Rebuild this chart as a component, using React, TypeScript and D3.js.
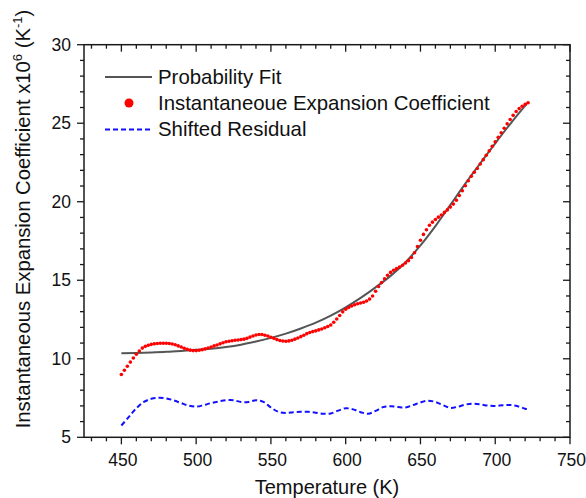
import React from "react";
import * as d3 from "d3";

// Instantaneous expansion coefficient (x10^6 K^-1), sampled every 2 K from 450 K
const dataStartT = 450;
const dataStepT = 2;
const coefValues = [
  9.0, 9.27, 9.52, 9.79, 10.05, 10.29, 10.5, 10.68, 10.79, 10.86,
  10.92, 10.95, 10.97, 10.99, 10.99, 10.99, 10.97, 10.94, 10.89, 10.82,
  10.75, 10.67, 10.6, 10.55, 10.52, 10.52, 10.54, 10.58, 10.63, 10.69,
  10.75, 10.82, 10.88, 10.95, 11.02, 11.08, 11.12, 11.15, 11.18, 11.2,
  11.22, 11.25, 11.3, 11.38, 11.45, 11.51, 11.55, 11.55, 11.5, 11.45,
  11.37, 11.3, 11.22, 11.16, 11.13, 11.12, 11.14, 11.18, 11.25, 11.32,
  11.41, 11.5, 11.6, 11.67, 11.73, 11.78, 11.84, 11.9, 11.98, 12.06,
  12.15, 12.33, 12.53, 12.76, 12.99, 13.15, 13.27, 13.36, 13.44, 13.5,
  13.55, 13.6, 13.68, 13.8, 14.0, 14.3, 14.6, 14.85, 15.1, 15.32,
  15.5, 15.64, 15.74, 15.84, 15.96, 16.1, 16.25, 16.45, 16.75, 17.15,
  17.55, 17.92, 18.22, 18.5, 18.7, 18.87, 19.02, 19.15, 19.32, 19.48,
  19.66, 19.85, 20.1, 20.4, 20.7, 21.02, 21.34, 21.62, 21.88, 22.12,
  22.4, 22.68, 22.96, 23.24, 23.53, 23.82, 24.1, 24.39, 24.68, 24.96,
  25.24, 25.5, 25.75, 25.93, 26.08, 26.2, 26.3,
];

// Probability fit curve
const fitTemps = [450, 460, 470, 480, 490, 500, 510, 520, 530, 540, 550, 560, 570, 580, 590, 600, 610, 620, 630, 640, 650, 660, 670, 680, 690, 700, 710, 720, 722];
const fitValues = [10.35, 10.37, 10.4, 10.44, 10.5, 10.57, 10.64, 10.75, 10.9, 11.1, 11.33, 11.6, 11.93, 12.3, 12.75, 13.28, 13.88, 14.55, 15.28, 16.15, 17.22, 18.45, 19.8, 21.15, 22.45, 23.72, 24.95, 26.12, 26.35];

// Shifted residual
const residTemps = [450, 455, 460, 465, 470, 475, 480, 485, 490, 495, 500, 505, 510, 515, 520, 525, 530, 535, 540, 545, 550, 555, 560, 565, 570, 575, 580, 585, 590, 595, 600, 605, 610, 615, 620, 625, 630, 635, 640, 645, 650, 655, 660, 665, 670, 675, 680, 685, 690, 695, 700, 705, 710, 715, 720, 722];
const residValues = [5.75, 6.3, 6.85, 7.25, 7.45, 7.52, 7.48, 7.35, 7.18, 7.02, 6.95, 7.05, 7.18, 7.28, 7.36, 7.36, 7.25, 7.25, 7.36, 7.25, 6.9, 6.62, 6.55, 6.6, 6.63, 6.62, 6.57, 6.5, 6.52, 6.7, 6.85, 6.78, 6.6, 6.5, 6.68, 6.92, 6.98, 6.93, 6.9, 7.05, 7.22, 7.33, 7.25, 7.05, 6.87, 6.95, 7.08, 7.14, 7.1, 7.02, 7.0, 7.04, 7.06, 6.98, 6.82, 6.78];

const xMajorTicks = [450, 500, 550, 600, 650, 700, 750];
const yMajorTicks = [5, 10, 15, 20, 25, 30];

const legendLabels = ["Probability Fit", "Instantaneoue Expansion Coefficient", "Shifted Residual"];

const W = 586;
const H = 498;
const plot = { left: 84, right: 570, top: 44.7, bottom: 437.3 };
const FONT = "'Liberation Sans', Arial, sans-serif";
const AXIS_COLOR = "#1a1a1a";
const FIT_COLOR = "#555555";
const DOT_COLOR = "#ff0000";
const RESID_COLOR = "#1010ff";

export default function App() {
  const x = d3.scaleLinear().domain([425, 750]).range([plot.left, plot.right]);
  const y = d3.scaleLinear().domain([5, 30]).range([plot.bottom, plot.top]);

  const xMinor = d3.range(430, 750, 10).filter((t) => t % 50 !== 0);
  const yMinor = d3.range(6, 30, 1).filter((v) => v % 5 !== 0);

  const coefPoints = coefValues.map((v, i) => [dataStartT + i * dataStepT, v] as [number, number]);
  const fitLine = d3
    .line<number>()
    .x((_, i) => x(fitTemps[i]))
    .y((d) => y(d))
    .curve(d3.curveMonotoneX)(fitValues) as string;
  const residLine = d3
    .line<number>()
    .x((_, i) => x(residTemps[i]))
    .y((d) => y(d))
    .curve(d3.curveCatmullRom.alpha(0.5))(residValues) as string;

  const majorLen = 7;
  const minorLen = 4;

  return (
    <svg
      width={W}
      height={H}
      style={{ position: "absolute", left: 0, top: 0, background: "#fff" }}
      fontFamily={FONT}
    >
      <rect x={0} y={0} width={W} height={H} fill="#fff" />

      {/* data */}
      <path d={residLine} fill="none" stroke={RESID_COLOR} strokeWidth={2} strokeDasharray="5,3" />
      <path d={fitLine} fill="none" stroke={FIT_COLOR} strokeWidth={2} />
      {coefPoints.map(([t, v], i) => (
        <circle key={i} cx={x(t)} cy={y(v)} r={1.8} fill={DOT_COLOR} />
      ))}

      {/* frame */}
      <rect
        x={plot.left}
        y={plot.top}
        width={plot.right - plot.left}
        height={plot.bottom - plot.top}
        fill="none"
        stroke={AXIS_COLOR}
        strokeWidth={1.5}
      />

      {/* bottom (outward) and top (inward) ticks */}
      {xMajorTicks.map((t) => (
        <g key={`xM${t}`} stroke={AXIS_COLOR} strokeWidth={1.3}>
          <line x1={x(t)} x2={x(t)} y1={plot.bottom} y2={plot.bottom + majorLen} />
          <line x1={x(t)} x2={x(t)} y1={plot.top} y2={plot.top + majorLen} />
        </g>
      ))}
      {xMinor.map((t) => (
        <g key={`xm${t}`} stroke={AXIS_COLOR} strokeWidth={1.3}>
          <line x1={x(t)} x2={x(t)} y1={plot.bottom} y2={plot.bottom + minorLen} />
          <line x1={x(t)} x2={x(t)} y1={plot.top} y2={plot.top + minorLen} />
        </g>
      ))}

      {/* left (outward) and right (inward) ticks */}
      {yMajorTicks.map((v) => (
        <g key={`yM${v}`} stroke={AXIS_COLOR} strokeWidth={1.3}>
          <line x1={plot.left - majorLen} x2={plot.left} y1={y(v)} y2={y(v)} />
          <line x1={plot.right - majorLen} x2={plot.right} y1={y(v)} y2={y(v)} />
        </g>
      ))}
      {yMinor.map((v) => (
        <g key={`ym${v}`} stroke={AXIS_COLOR} strokeWidth={1.3}>
          <line x1={plot.left - minorLen} x2={plot.left} y1={y(v)} y2={y(v)} />
          <line x1={plot.right - minorLen} x2={plot.right} y1={y(v)} y2={y(v)} />
        </g>
      ))}

      {/* tick labels */}
      {xMajorTicks.map((t) => (
        <text key={`xl${t}`} x={x(t) + 1.5} y={466} textAnchor="middle" fontSize={17.5} fill="#111">
          {t}
        </text>
      ))}
      {yMajorTicks.map((v) => (
        <text key={`yl${v}`} x={71} y={y(v) + 6} textAnchor="end" fontSize={17.5} fill="#111">
          {v}
        </text>
      ))}

      {/* axis titles */}
      <text x={(plot.left + plot.right) / 2} y={494} textAnchor="middle" fontSize={20} fill="#111">
        Temperature (K)
      </text>
      <text transform="translate(30,219) rotate(-90)" textAnchor="middle" fontSize={20.3} fill="#111">
        Instantaneous Expansion Coefficient x10
        <tspan fontSize={13} dy={-8}>6</tspan>
        <tspan dy={8}> (K</tspan>
        <tspan fontSize={13} dy={-8}>-1</tspan>
        <tspan dy={8}>)</tspan>
      </text>

      {/* legend */}
      <g fontSize={20.4} fill="#111">
        <line x1={105} x2={152} y1={77} y2={77} stroke={FIT_COLOR} strokeWidth={2} />
        <text x={158} y={84}>{legendLabels[0]}</text>
        <circle cx={129} cy={103} r={4.5} fill={DOT_COLOR} />
        <text x={158} y={110}>{legendLabels[1]}</text>
        <line x1={105} x2={152} y1={129.5} y2={129.5} stroke={RESID_COLOR} strokeWidth={2} strokeDasharray="5,3" />
        <text x={158} y={136}>{legendLabels[2]}</text>
      </g>
    </svg>
  );
}
